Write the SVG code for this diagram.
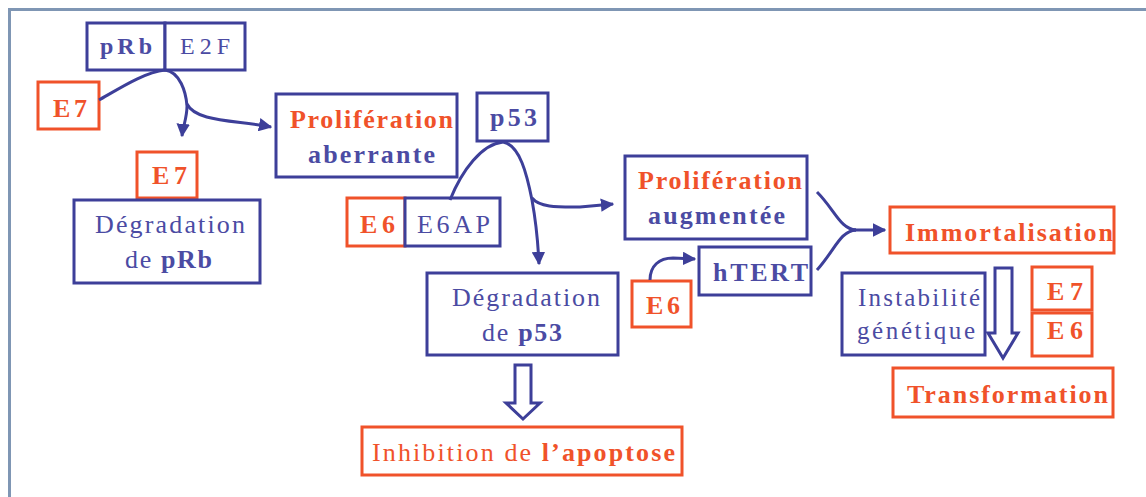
<svg xmlns="http://www.w3.org/2000/svg" width="1146" height="497" viewBox="0 0 1146 497">
<style>
.b{fill:#fff;stroke:#3d3f99;stroke-width:3}
.r{fill:#fff;stroke:#f0522a;stroke-width:3}
.t{font-family:'Liberation Serif','Times New Roman',serif;font-size:26px}
.t.s24{font-size:24px}
.t.s25{font-size:25px}
.tb{fill:#4b4ba3}
.tr{fill:#f0522a}
.bd{font-weight:bold}
.c{fill:none;stroke:#3d3f99;stroke-width:3}
.ba{fill:#fff;stroke:#3d3f99;stroke-width:3;stroke-linejoin:miter}
</style>
<defs>
<marker id="ah" viewBox="0 0 10 10" refX="9" refY="5" markerWidth="4.5" markerHeight="4.5" orient="auto" markerUnits="strokeWidth">
<path d="M0,0 L10,5 L0,10 z" fill="#3d3f99"/>
</marker>
</defs>
<rect width="1146" height="497" fill="#fff"/>
<path d="M9.5,497 L9.5,9.5 L1146,9.5" fill="none" stroke="#7f96b4" stroke-width="3"/>

<g id="prb-e2f">
<rect class="b" x="87" y="23" width="78" height="47"/>
<rect class="b" x="165" y="23" width="80" height="47"/>
<text class="t s24 tb bd" x="100" y="54" textLength="52" lengthAdjust="spacing">pRb</text>
<text class="t s24 tb" x="180" y="54" textLength="50" lengthAdjust="spacing">E2F</text>
</g>
<g id="e7-a">
<rect class="r" x="38" y="82" width="61" height="47"/>
<text class="t tr bd" x="53" y="117" textLength="34" lengthAdjust="spacing">E7</text>
</g>
<g id="e7-b">
<rect class="r" x="137" y="152" width="60" height="46"/>
<text class="t tr bd" x="152" y="184" textLength="35" lengthAdjust="spacing">E7</text>
</g>
<g id="deg-prb">
<rect class="b" x="74" y="200" width="186" height="83"/>
<text class="t tb" x="95" y="233" textLength="150" lengthAdjust="spacing">Dégradation</text>
<text class="t tb" x="125" y="268" textLength="87" lengthAdjust="spacing">de <tspan class="bd">pRb</tspan></text>
</g>
<g id="prolif-aberrante">
<rect class="b" x="276" y="94" width="181" height="83"/>
<text class="t tr bd" x="290" y="128" textLength="163" lengthAdjust="spacing">Prolifération</text>
<text class="t tb bd" x="308" y="163" textLength="127" lengthAdjust="spacing">aberrante</text>
</g>
<g id="p53">
<rect class="b" x="477" y="93" width="71" height="48"/>
<text class="t tb bd" x="490" y="126" textLength="47" lengthAdjust="spacing">p53</text>
</g>
<g id="e6-e6ap">
<rect class="r" x="347" y="198" width="58" height="48"/>
<rect class="b" x="405" y="198" width="95" height="48"/>
<text class="t tr bd" x="360" y="233" textLength="35" lengthAdjust="spacing">E6</text>
<text class="t tb" x="417" y="233" textLength="73" lengthAdjust="spacing">E6AP</text>
</g>
<g id="deg-p53">
<rect class="b" x="427" y="273" width="191" height="82"/>
<text class="t tb" x="452" y="306" textLength="148" lengthAdjust="spacing">Dégradation</text>
<text class="t tb" x="482" y="341" textLength="80" lengthAdjust="spacing">de <tspan class="bd">p53</tspan></text>
</g>
<g id="inhibition">
<rect class="r" x="362" y="427" width="320" height="48"/>
<text class="t tr" x="372" y="461" textLength="303" lengthAdjust="spacing">Inhibition de <tspan class="bd">l’apoptose</tspan></text>
</g>
<g id="prolif-augmentee">
<rect class="b" x="625" y="156" width="182" height="83"/>
<text class="t tr bd" x="638" y="189" textLength="164" lengthAdjust="spacing">Prolifération</text>
<text class="t tb bd" x="648" y="224" textLength="137" lengthAdjust="spacing">augmentée</text>
</g>
<g id="htert">
<rect class="b" x="699" y="247" width="112" height="48"/>
<text class="t tb bd" x="713" y="281" textLength="95" lengthAdjust="spacing">hTERT</text>
</g>
<g id="e6-c">
<rect class="r" x="632" y="281" width="59" height="46"/>
<text class="t tr bd" x="646" y="314" textLength="34" lengthAdjust="spacing">E6</text>
</g>
<g id="immortalisation">
<rect class="r" x="890" y="207" width="224" height="46"/>
<text class="t tr bd" x="905" y="241" textLength="208" lengthAdjust="spacing">Immortalisation</text>
</g>
<g id="instabilite">
<rect class="b" x="842" y="273" width="143" height="82"/>
<text class="t s25 tb" x="858" y="306" textLength="122" lengthAdjust="spacing">Instabilité</text>
<text class="t s25 tb" x="857" y="339" textLength="118" lengthAdjust="spacing">génétique</text>
</g>
<g id="e7-e6">
<rect class="r" x="1032" y="267" width="60" height="43"/>
<rect class="r" x="1032" y="313" width="60" height="43"/>
<text class="t tr bd" x="1047" y="300" textLength="36" lengthAdjust="spacing">E7</text>
<text class="t tr bd" x="1047" y="339" textLength="36" lengthAdjust="spacing">E6</text>
</g>
<g id="transformation">
<rect class="r" x="893" y="368" width="220" height="49"/>
<text class="t tr bd" x="907" y="403" textLength="201" lengthAdjust="spacing">Transformation</text>
</g>

<g id="connectors">
<path class="c" d="M99,100 C120,88 145,72 165,70"/>
<path class="c" d="M165,70 C180,72 186,92 187,106 C187,118 183,126 182,136" marker-end="url(#ah)"/>
<path class="c" d="M187,104 C196,122 235,120 271,127" marker-end="url(#ah)"/>
<path class="c" d="M450,200 C462,170 482,144 503,142"/>
<path class="c" d="M503,142 C520,145 527,175 532,200 C536,222 538,242 539,264" marker-end="url(#ah)"/>
<path class="c" d="M532,198 C540,208 560,207 580,207 L613,204" marker-end="url(#ah)"/>
<path class="c" d="M650,280 C650,266 659,258 673,258 L695,259" marker-end="url(#ah)"/>
<path class="c" d="M817,192 C835,210 840,229 856,230"/>
<path class="c" d="M817,270 C835,250 840,231 856,230"/>
<path class="c" d="M850,230 L885,230" marker-end="url(#ah)"/>
<polygon class="ba" points="515,365 531,365 531,403 540,403 523,419 506,403 515,403"/>
<polygon class="ba" points="995,268 1012,268 1012,333 1018,333 1003,358 988,333 995,333"/>
</g>
</svg>
